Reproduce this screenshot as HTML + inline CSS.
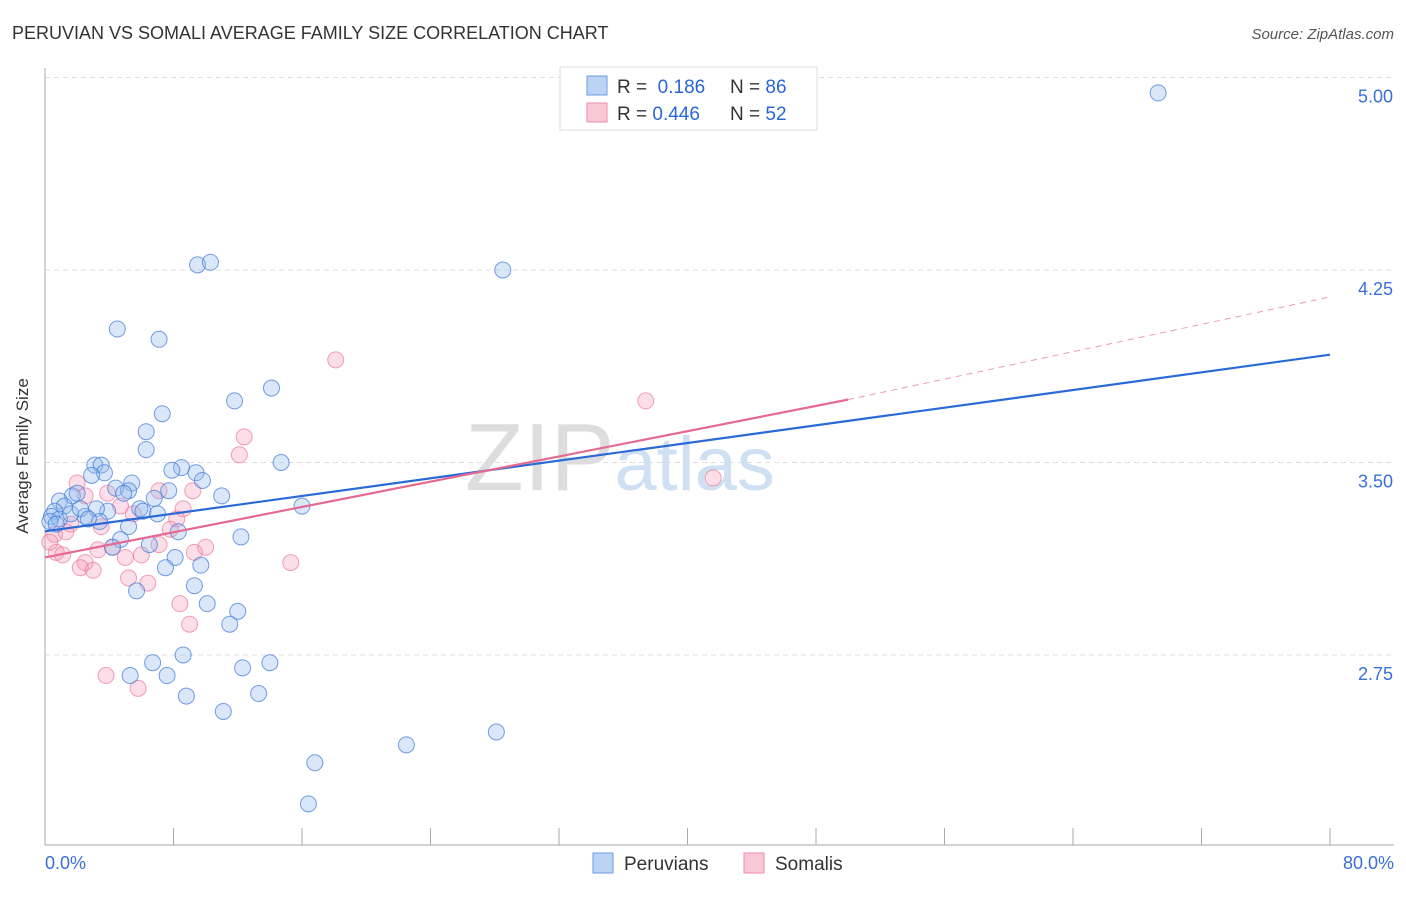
<!DOCTYPE html>
<html><head><meta charset="utf-8"><style>
body{margin:0;background:#fff;font-family:"Liberation Sans",sans-serif;}
svg text{font-family:"Liberation Sans",sans-serif;}
</style></head><body>
<svg width="1406" height="892">
<text x="12" y="39" font-size="18" fill="#333">PERUVIAN VS SOMALI AVERAGE FAMILY SIZE CORRELATION CHART</text>
<text x="1394" y="39" font-size="15" fill="#555" font-style="italic" text-anchor="end">Source: ZipAtlas.com</text>
<text x="620" y="490" font-size="96" fill="#ddd" text-anchor="middle" font-family="Liberation Serif">ZIP<tspan fill="#cfe0f3" font-family="Liberation Sans" font-size="76">atlas</tspan></text>
<g id="grid"></g>
<g id="axes"></g>
<g id="pts"></g>
<g id="lines"></g>
<text x="28" y="456" font-size="17" fill="#333" text-anchor="middle" transform="rotate(-90 28 456)">Average Family Size</text>
<text x="45" y="869" font-size="18" fill="#3a6fd8">0.0%</text>
<text x="1394" y="869" font-size="18" fill="#3a6fd8" text-anchor="end">80.0%</text>
<g>
<rect x="560" y="67" width="257" height="63" fill="#fff" stroke="#ddd"/>
<rect x="587" y="76" width="20" height="19" fill="#bcd3f5" stroke="#6d9be6"/>
<rect x="587" y="103" width="20" height="19" fill="#f9c8d6" stroke="#ee8eaa"/>
<text x="617" y="93" font-size="19" fill="#333">R = <tspan fill="#2a66d4">&#160;0.186</tspan><tspan x="730">N = </tspan><tspan fill="#2a66d4">86</tspan></text>
<text x="617" y="120" font-size="19" fill="#333">R = <tspan fill="#2a66d4">0.446</tspan><tspan x="730">N = </tspan><tspan fill="#2a66d4">52</tspan></text>
</g>
<g>
<rect x="593" y="853" width="20" height="20" fill="#bcd3f5" stroke="#6d9be6"/>
<text x="624" y="870" font-size="19" fill="#333">Peruvians</text>
<rect x="744" y="853" width="20" height="20" fill="#f9c8d6" stroke="#ee8eaa"/>
<text x="775" y="870" font-size="19" fill="#333">Somalis</text>
</g>
</svg>
<script>
const yTicks=[2.75,3.5,4.25,5.0];
const yTickLabels=["2.75","3.50","4.25","5.00"];
const peruX=[69.3,9.5,10.3,28.5,4.5,7.1,14.1,11.8,7.3,6.3,6.3,14.7,3.1,3.5,8.5,7.9,9.4,3.7,2.9,9.8,5.4,4.4,5.2,4.9,7.7,11.0,6.8,1.7,2.0,0.9,1.2,5.9,3.9,6.1,3.2,16.0,0.6,0.4,2.5,7.0,3.4,0.9,5.2,8.3,12.2,4.7,6.5,4.2,8.1,9.7,7.5,9.3,5.7,10.1,12.0,11.5,8.6,6.7,14.0,12.3,5.3,7.6,13.3,8.8,11.1,28.1,22.5,16.8,16.4,0.3,0.7,1.6,2.2,2.7];
const peruY=[4.94,4.27,4.28,4.25,4.02,3.98,3.79,3.74,3.69,3.62,3.55,3.50,3.49,3.49,3.48,3.47,3.46,3.46,3.45,3.43,3.42,3.40,3.39,3.38,3.39,3.37,3.36,3.37,3.38,3.35,3.33,3.32,3.31,3.31,3.32,3.33,3.31,3.29,3.29,3.30,3.27,3.28,3.25,3.23,3.21,3.20,3.18,3.17,3.13,3.10,3.09,3.02,3.00,2.95,2.92,2.87,2.75,2.72,2.72,2.70,2.67,2.67,2.60,2.59,2.53,2.45,2.40,2.33,2.17,3.27,3.26,3.30,3.32,3.28];
const somX=[18.1,37.4,12.4,12.1,41.6,2.0,9.2,7.1,3.9,2.5,4.7,8.6,5.5,8.2,1.6,3.5,7.8,0.6,7.1,10.0,4.2,3.3,0.7,9.3,1.1,5.0,6.0,2.5,15.3,2.2,3.0,5.2,6.4,8.4,9.0,3.8,5.8,0.3,1.3];
const somY=[3.90,3.74,3.60,3.53,3.44,3.42,3.39,3.39,3.38,3.37,3.33,3.32,3.30,3.28,3.26,3.25,3.24,3.22,3.18,3.17,3.17,3.16,3.15,3.15,3.14,3.13,3.14,3.11,3.11,3.09,3.08,3.05,3.03,2.95,2.87,2.67,2.62,3.19,3.23];
const peruLine=[[0,3.232],[80,3.92]];
const somLine=[[0,3.13],[50,3.745]];
const somDash=[[50,3.745],[80,4.145]];
const NS='http://www.w3.org/2000/svg';
const xs=v=>45+v/80*1285;
const ys=v=>77.5+(5-v)/0.75*192.5;
function mk(tag,attrs,parent){const e=document.createElementNS(NS,tag);for(const k in attrs)e.setAttribute(k,attrs[k]);document.getElementById(parent).appendChild(e);return e;}
yTicks.forEach((t,i)=>{
 const l=mk('line',{x1:45,x2:1394,y1:ys(t),y2:ys(t),stroke:'#ddd','stroke-dasharray':'5,4'},'grid');
 
 
 const tx=mk('text',{x:1393,y:ys(t)+25,'font-size':18,fill:'#3a6fd8','text-anchor':'end'},'grid');
 tx.textContent=yTickLabels[i];
 
 
});
const ax=mk('line',{x1:45,x2:1394,y1:845,y2:845,stroke:'#aaa'},'axes');


const ay=mk('line',{x1:45,x2:45,y1:68,y2:845,stroke:'#aaa'},'axes');


for(let i=0;i<=10;i++){
 const t=mk('line',{x1:xs(i*8),x2:xs(i*8),y1:828,y2:845,stroke:'#aaa'},'axes');
 
 
}
somX.forEach((v,i)=>{
 const c=mk('circle',{cx:xs(v),cy:ys(somY[i]),r:8,fill:'rgba(244,160,185,0.35)',stroke:'rgba(236,120,155,0.7)','stroke-width':1},'pts');
 
 
});
peruX.forEach((v,i)=>{
 const c=mk('circle',{cx:xs(v),cy:ys(peruY[i]),r:8,fill:'rgba(150,185,235,0.35)',stroke:'rgba(70,125,220,0.75)','stroke-width':1},'pts');
 
 
});
const bl=mk('line',{x1:xs(peruLine[0][0]),y1:ys(peruLine[0][1]),x2:xs(peruLine[1][0]),y2:ys(peruLine[1][1]),stroke:'#2a6ad6','stroke-width':2.2},'lines');


const pl=mk('line',{x1:xs(somLine[0][0]),y1:ys(somLine[0][1]),x2:xs(somLine[1][0]),y2:ys(somLine[1][1]),stroke:'#e46a92','stroke-width':2.2},'lines');


const pd=mk('line',{x1:xs(somDash[0][0]),y1:ys(somDash[0][1]),x2:xs(somDash[1][0]),y2:ys(somDash[1][1]),stroke:'#e99ab3','stroke-width':1,'stroke-dasharray':'6,5'},'lines');


</script>
</body></html>
